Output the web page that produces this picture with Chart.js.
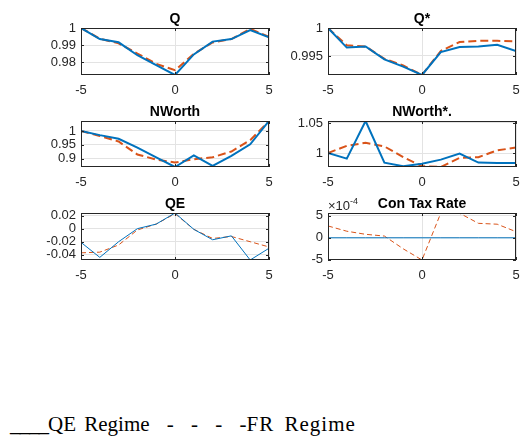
<!DOCTYPE html>
<html>
<head>
<meta charset="utf-8">
<script src="https://cdn.jsdelivr.net/npm/chart.js@4.4.1/dist/chart.umd.min.js"></script>
<style>
  body { margin: 0; background: #fff; }
  #wrap { position: relative; width: 520px; height: 444px; overflow: hidden; }
  canvas { position: absolute; }
  #legend-text {
    position: absolute; left: 10px; top: 412px;
    font-family: "Liberation Serif", "DejaVu Serif", serif;
    font-size: 21px; color: #000; white-space: pre; word-spacing: 3px;
  }
  #legend-text .us { letter-spacing: -1px; }
  #legend-text .dash { word-spacing: 12px; }
  #legend-text .fr { letter-spacing: 1px; word-spacing: 4px; }
</style>
</head>
<body>
<div id="wrap">
  <canvas id="c1" width="280" height="100" style="left:0;top:0"></canvas>
  <canvas id="c2" width="250" height="100" style="left:270px;top:0"></canvas>
  <canvas id="c3" width="280" height="100" style="left:0;top:95px"></canvas>
  <canvas id="c4" width="250" height="100" style="left:270px;top:95px"></canvas>
  <canvas id="c5" width="280" height="100" style="left:0;top:188px"></canvas>
  <canvas id="c6" width="250" height="100" style="left:270px;top:188px"></canvas>
  <div id="legend-text"><span class="us">____</span>QE Regime<span class="dash"> - - - -</span><span class="fr">FR Regime</span></div>
</div>
<script>
// periods after the shock
var xVals = [-5, -4, -3, -2, -1, 0, 1, 2, 3, 4, 5];
var xTicks = [-5, 0, 5];

// Q
var qQE = [1.0, 0.9935, 0.9916, 0.984, 0.9782, 0.9724, 0.9845, 0.992, 0.9935, 0.9988, 0.9945];
var qFR = [1.0, 0.9937, 0.991, 0.985, 0.979, 0.9752, 0.9848, 0.9915, 0.9935, 0.9995, 0.9948];
var qTicks = [0.98, 0.99, 1];

// Q*
var qsQE = [1.0, 0.9965, 0.9967, 0.9944, 0.9931, 0.9916, 0.9957, 0.9966, 0.9967, 0.997, 0.9959];
var qsFR = [1.0, 0.9969, 0.9967, 0.9945, 0.9933, 0.9916, 0.9959, 0.9975, 0.9977, 0.9977, 0.9976];
var qsTicks = [0.995, 1];

// NWorth
var nwQE = [1.0, 0.985, 0.972, 0.94, 0.905, 0.87, 0.912, 0.874, 0.91, 0.952, 1.036];
var nwFR = [1.0, 0.982, 0.962, 0.915, 0.897, 0.886, 0.898, 0.905, 0.926, 0.967, 1.036];
var nwTicks = [0.9, 0.95, 1];

// NWorth*.
var nwsQE = [1.0, 0.9906, 1.0533, 0.984, 0.978, 0.982, 0.989, 0.999, 0.984, 0.9833, 0.9833];
var nwsFR = [1.0, 1.012, 1.017, 1.011, 0.993, 0.978, 0.9767, 0.992, 0.993, 1.0044, 1.009];
var nwsTicks = [1, 1.05];

// QE
var qeQE = [-0.021, -0.044, -0.02, 0, 0.007, 0.024, -0.001, -0.017, -0.011, -0.048, -0.030];
var qeFR = [-0.037, -0.036, -0.025, -0.002, 0.007, 0.023, -0.001, -0.015, -0.012, -0.02, -0.028];
var qeTicks = [-0.04, -0.02, 0, 0.02];

// Con Tax Rate
var ctQE = [0, 0, 0, 0, 0, 0, 0, 0, 0, 0, 0];
var ctFR = [2.7e-4, 1.5e-4, 0.8e-4, 0.4e-4, -2.5e-4, -5.05e-4, 5.65e-4, 5.6e-4, 3.3e-4, 3.1e-4, 1.4e-4];
var ctTicks = [-5e-4, 0, 5e-4];

var blue = '#0072BD';
var red = '#D95319';
var axisColor = '#262626';
var fontFamily = '"Liberation Sans", Arial, sans-serif';
var tickFont = { family: fontFamily, size: 13 };

// draws the box, inward tick marks, title and exponent like MATLAB axes
var framePlugin = {
    id: 'frame',
    afterDraw: function(chart, args, o) {
        var ctx = chart.ctx, a = chart.chartArea;
        var sx = chart.scales.x, sy = chart.scales.y;
        ctx.save();
        ctx.strokeStyle = axisColor;
        ctx.lineWidth = 1;
        ctx.strokeRect(Math.round(a.left) + 0.5, Math.round(a.top) + 0.5,
                       Math.round(a.right - a.left) - 1, Math.round(a.bottom - a.top) - 1);
        ctx.beginPath();
        sx.ticks.forEach(function(t) {
            var px = Math.round(sx.getPixelForValue(t.value)) + 0.5;
            ctx.moveTo(px, a.bottom); ctx.lineTo(px, a.bottom - 3);
            ctx.moveTo(px, a.top); ctx.lineTo(px, a.top + 3);
        });
        sy.ticks.forEach(function(t) {
            var py = Math.round(sy.getPixelForValue(t.value)) + 0.5;
            ctx.moveTo(a.left, py); ctx.lineTo(a.left + 3, py);
            ctx.moveTo(a.right, py); ctx.lineTo(a.right - 3, py);
        });
        ctx.stroke();

        ctx.fillStyle = '#000';
        ctx.font = 'bold 14px ' + fontFamily;
        ctx.textAlign = 'center';
        ctx.textBaseline = 'alphabetic';
        ctx.fillText(o.text, (a.left + a.right) / 2, a.top - 5);

        if (o.exponent) {
            ctx.fillStyle = axisColor;
            ctx.textAlign = 'left';
            ctx.font = '13px ' + fontFamily;
            ctx.fillText('\u00d710', a.left, a.top - 3);
            var w = ctx.measureText('\u00d710').width;
            ctx.font = '9px ' + fontFamily;
            ctx.fillText(o.exponent, a.left + w, a.top - 9);
        }
        ctx.restore();
    }
};

function makeChart(id, title, qe, fr, yTicks, thick, pad, yFormat, exponent) {
    var all = qe.concat(fr);
    var ctx = document.getElementById(id).getContext('2d');
    return new Chart(ctx, {
        type: 'line',
        data: {
            datasets: [
                {
                    label: 'QE Regime',
                    data: xVals.map(function(x, i) { return { x: x, y: qe[i] }; }),
                    borderColor: blue,
                    backgroundColor: blue,
                    borderWidth: thick ? 2 : 1
                },
                {
                    label: 'FR Regime',
                    data: xVals.map(function(x, i) { return { x: x, y: fr[i] }; }),
                    borderColor: red,
                    backgroundColor: red,
                    borderWidth: thick ? 2 : 1,
                    borderDash: thick ? [8, 4] : [5, 3]
                }
            ]
        },
        options: {
            responsive: false,
            animation: false,
            devicePixelRatio: 1,
            elements: { point: { radius: 0 }, line: { tension: 0 } },
            layout: { padding: pad },
            scales: {
                x: {
                    type: 'linear',
                    min: -5,
                    max: 5,
                    afterBuildTicks: function(s) { s.ticks = xTicks.map(function(v) { return { value: v }; }); },
                    afterFit: function(s) { s.height = 20; s.paddingLeft = 0; s.paddingRight = 0; },
                    grid: { color: '#e3e3e3', drawTicks: false },
                    border: { display: false },
                    ticks: { color: axisColor, font: tickFont, padding: 8, maxRotation: 0, autoSkip: false }
                },
                y: {
                    min: Math.min.apply(null, all),
                    max: Math.max.apply(null, all),
                    afterBuildTicks: function(s) { s.ticks = yTicks.map(function(v) { return { value: v }; }); },
                    afterFit: function(s) { s.width = 50; s.paddingTop = 0; s.paddingBottom = 0; },
                    grid: { color: '#e3e3e3', drawTicks: false },
                    border: { display: false },
                    ticks: { color: axisColor, font: tickFont, padding: 5, autoSkip: false, callback: yFormat }
                }
            },
            plugins: {
                legend: { display: false },
                tooltip: { enabled: false },
                frame: { text: title, exponent: exponent }
            }
        },
        plugins: [framePlugin]
    });
}

function plainFormat(v) { return String(parseFloat(v.toFixed(4))); }
function expFormat(v) { return String(Math.round(v / 1e-4)); }

// left column: plot 81..269, right column: plot ~328..516
var padL = { left: 31, right: 11 };
var padR = { left: 8, right: 4 };

makeChart('c1', 'Q', qQE, qFR, qTicks, true, { left: padL.left, right: padL.right, top: 28, bottom: 5 }, plainFormat);
makeChart('c2', 'Q*', qsQE, qsFR, qsTicks, true, { left: padR.left, right: padR.right, top: 28, bottom: 5 }, plainFormat);
makeChart('c3', 'NWorth', nwQE, nwFR, nwTicks, true, { left: padL.left, right: padL.right, top: 26, bottom: 8 }, plainFormat);
makeChart('c4', 'NWorth*.', nwsQE, nwsFR, nwsTicks, true, { left: padR.left, right: padR.right, top: 26, bottom: 8 }, plainFormat);
makeChart('c5', 'QE', qeQE, qeFR, qeTicks, false, { left: padL.left, right: padL.right, top: 25, bottom: 8 }, plainFormat);
makeChart('c6', 'Con Tax Rate', ctQE, ctFR, ctTicks, false, { left: padR.left, right: padR.right, top: 25, bottom: 8 }, expFormat, '-4');
</script>
</body>
</html>
